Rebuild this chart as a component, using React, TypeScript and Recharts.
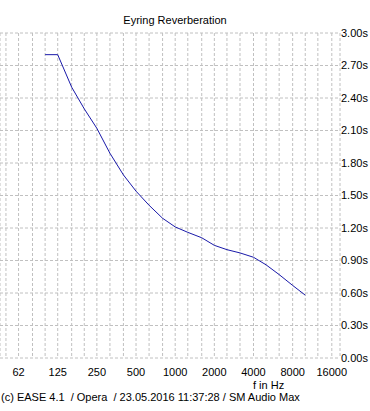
import { LineChart, Line, XAxis, YAxis, CartesianGrid } from 'recharts'

// third-octave band centres (Hz) and Eyring RT (s)
const freqs = [100, 125, 160, 200, 250, 315, 400, 500, 630, 800, 1000, 1250, 1600, 2000, 2500, 3150, 4000, 5000, 6300, 8000, 10000]
const rt = [2.8, 2.8, 2.5, 2.3, 2.12, 1.89, 1.69, 1.54, 1.41, 1.29, 1.21, 1.16, 1.11, 1.04, 1.0, 0.97, 0.93, 0.86, 0.77, 0.67, 0.58]

const gridFreqs = [50, 62.5, 80, 100, 125, 160, 200, 250, 315, 400, 500, 630, 800, 1000, 1250, 1600, 2000, 2500, 3150, 4000, 5000, 6300, 8000, 10000, 12500, 16000]
const octaveLabels = [62.5, 125, 250, 500, 1000, 2000, 4000, 8000, 16000]
const yTicks = [0, 0.3, 0.6, 0.9, 1.2, 1.5, 1.8, 2.1, 2.4, 2.7, 3.0]

const data = freqs.map((f, i) => ({ f, rt: rt[i] }))

const font = '"Liberation Sans", Arial, sans-serif'

export default function App() {
  return (
    <div
      style={{
        position: 'absolute',
        left: 0,
        top: 0,
        width: 370,
        height: 411,
        background: '#ffffff',
        fontFamily: font,
        color: '#000',
      }}
    >
      <LineChart
        width={370}
        height={411}
        data={data}
        margin={{ top: 33, right: 0, left: 0, bottom: 23 }}
      >
        <CartesianGrid strokeDasharray="3 2" stroke="#c0c0c0" />
        <XAxis
          dataKey="f"
          type="number"
          scale="log"
          domain={[45, 18500]}
          allowDataOverflow
          ticks={gridFreqs}
          interval={0}
          height={30}
          axisLine={false}
          tickLine={false}
          tickSize={0}
          tickMargin={10}
          tickFormatter={(v: number) => (octaveLabels.includes(v) ? String(Math.floor(v)) : '')}
          tick={{ fill: '#000', fontSize: 11, fontFamily: font }}
        />
        <YAxis
          orientation="right"
          width={30}
          type="number"
          domain={[0, 3]}
          ticks={yTicks}
          interval={0}
          axisLine={false}
          tickLine={false}
          tickSize={0}
          tickMargin={1}
          tickFormatter={(v: number) => v.toFixed(2) + 's'}
          tick={{ fill: '#000', fontSize: 11, fontFamily: font, textAnchor: 'start' }}
        />
        <Line
          type="linear"
          dataKey="rt"
          stroke="#1a1aaa"
          strokeWidth={1}
          dot={false}
          isAnimationActive={false}
        />
      </LineChart>
      <div style={{ position: 'absolute', left: 0, width: 350, top: 14, fontSize: 11, lineHeight: '13px', textAlign: 'center' }}>
        Eyring Reverberation
      </div>
      <div style={{ position: 'absolute', left: 253, top: 379, fontSize: 11, lineHeight: '13px' }}>
        f in Hz
      </div>
      <div style={{ position: 'absolute', left: 1, top: 391, fontSize: 11, lineHeight: '13px', whiteSpace: 'pre' }}>
        (c) EASE 4.1  / Opera  / 23.05.2016 11:37:28 / SM Audio Max
      </div>
    </div>
  )
}
